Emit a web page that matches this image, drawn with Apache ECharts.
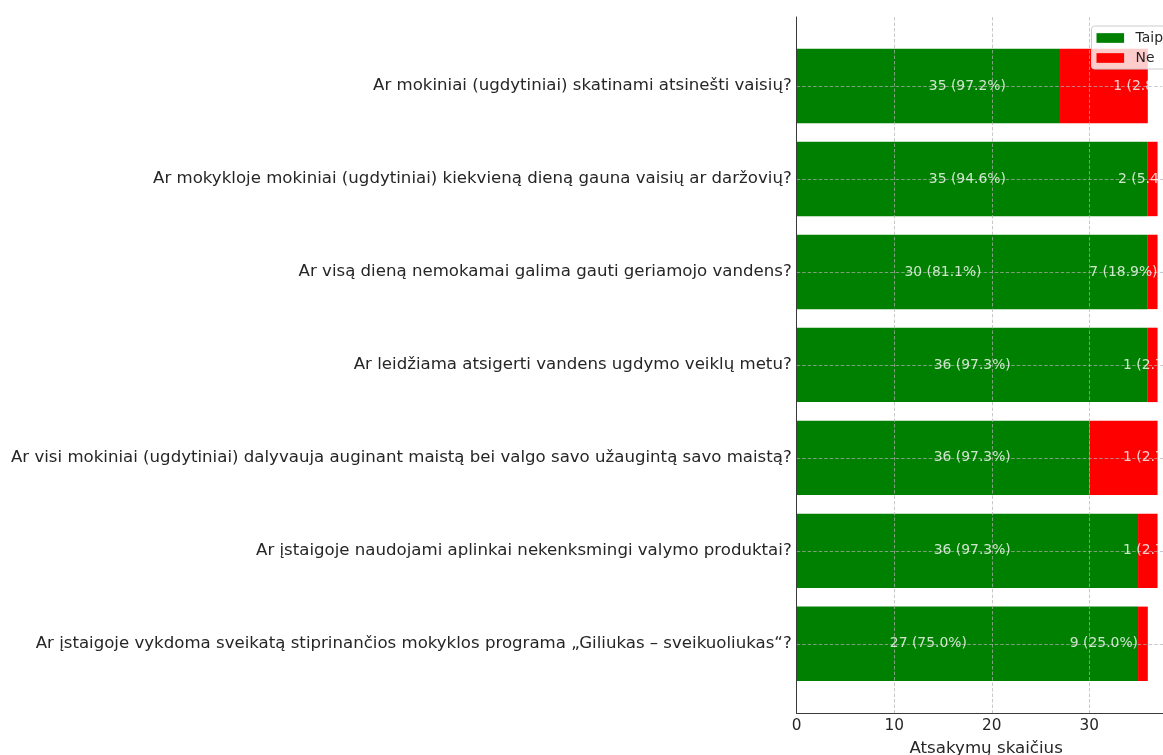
<!DOCTYPE html>
<html>
<head>
<meta charset="utf-8">
<style>
  html, body { margin: 0; padding: 0; background: #ffffff; }
  #chart { width: 1163px; height: 755px; }
</style>
<script src="https://cdn.jsdelivr.net/npm/echarts@6/dist/echarts.min.js"></script>
</head>
<body>
<div id="chart"></div>
<script>
// Questions, top to bottom
const questions = [
  'Ar mokiniai (ugdytiniai) skatinami atsinešti vaisių?',
  'Ar mokykloje mokiniai (ugdytiniai) kiekvieną dieną gauna vaisių ar daržovių?',
  'Ar visą dieną nemokamai galima gauti geriamojo vandens?',
  'Ar leidžiama atsigerti vandens ugdymo veiklų metu?',
  'Ar visi mokiniai (ugdytiniai) dalyvauja auginant maistą bei valgo savo užaugintą savo maistą?',
  'Ar įstaigoje naudojami aplinkai nekenksmingi valymo produktai?',
  'Ar įstaigoje vykdoma sveikatą stiprinančios mokyklos programa „Giliukas – sveikuoliukas“?'
];
// Bar lengths as drawn (top to bottom)
const barTaip = [27, 36, 36, 36, 30, 35, 35];
const barNe   = [9, 1, 1, 1, 7, 2, 1];
// Text labels as printed on the bars (top to bottom)
const labelTaip = [35, 35, 30, 36, 36, 36, 27];
const labelNe   = [1, 2, 7, 1, 1, 1, 9];
const xTicks = [0, 10, 20, 30];
const seriesNames = ['Taip', 'Ne'];

const FONT = 'DejaVu Sans';
const pct = (v, i) => (v / (labelTaip[i] + labelNe[i]) * 100).toFixed(1);

const taipLabelData = labelTaip.map((v, i) => [v / 2, i]);
const neLabelData = labelNe.map((v, i) => [labelTaip[i] + v / 2, i]);

const X_MAX = 38.85;
const gridLine = { show: true, lineStyle: { color: 'rgba(176,176,176,0.7)', width: 1, type: [3.5, 2] } };

const chart = echarts.init(document.getElementById('chart'), null, { renderer: 'canvas' });
chart.setOption({
  animation: false,
  textStyle: { fontFamily: FONT },
  legend: {
    data: seriesNames,
    orient: 'vertical',
    left: 1091.5,
    top: 26,
    icon: 'rect',
    itemWidth: 27.6,
    itemHeight: 9.7,
    itemGap: 6,
    padding: [5, 5, 4, 5],
    backgroundColor: 'rgba(255,255,255,0.8)',
    borderColor: '#cccccc',
    borderWidth: 1,
    borderRadius: 3,
    textStyle: { fontFamily: FONT, fontSize: 13.9, color: '#262626', padding: [0, 0, 0, 6.5] },
    z: 10
  },
  grid: [
    { left: 796.7, right: -12.6, top: 17, bottom: 41.7, outerBoundsMode: 'none', containLabel: false },
    { left: 796.7, right: -12.6, top: 86, bottom: 111.2, outerBoundsMode: 'none', containLabel: false }
  ],
  xAxis: [
    {
      gridIndex: 0, type: 'value', min: 0, max: X_MAX, interval: 10,
      z: 3,
      axisLine: { show: true, lineStyle: { color: '#3a3a3a', width: 1 } },
      axisTick: { show: false },
      axisLabel: {
        fontFamily: FONT, fontSize: 15.3, color: '#262626', margin: 5,
        showMaxLabel: false,
        formatter: v => (xTicks.indexOf(v) >= 0 ? String(v) : '')
      },
      splitLine: gridLine,
      name: 'Atsakymų skaičius',
      nameLocation: 'middle',
      nameGap: 27,
      nameTextStyle: { fontFamily: FONT, fontSize: 16.67, color: '#262626' }
    },
    { gridIndex: 1, type: 'value', min: 0, max: X_MAX, show: false }
  ],
  yAxis: [
    {
      gridIndex: 0, type: 'value', min: 0, max: 1, z: 3,
      axisLine: { show: true, lineStyle: { color: '#3a3a3a', width: 1 } },
      axisTick: { show: false }, axisLabel: { show: false }, splitLine: { show: false }
    },
    {
      gridIndex: 1, type: 'category', data: questions, inverse: true, boundaryGap: false, z: 3,
      axisLine: { show: false }, axisTick: { show: false },
      axisLabel: { interval: 0, fontFamily: FONT, fontSize: 16.6, color: '#262626', margin: 5 },
      splitLine: gridLine
    }
  ],
  series: [
    {
      name: 'Taip', type: 'bar', xAxisIndex: 1, yAxisIndex: 1, stack: 'total',
      barWidth: 74.4, clip: false, data: barTaip,
      itemStyle: { color: '#008000' }
    },
    {
      name: 'Ne', type: 'bar', xAxisIndex: 1, yAxisIndex: 1, stack: 'total',
      barWidth: 74.4, clip: false, data: barNe,
      itemStyle: { color: '#ff0000' }
    },
    {
      type: 'scatter', xAxisIndex: 1, yAxisIndex: 1, symbolSize: 0, silent: true, z: 5,
      data: taipLabelData,
      label: {
        show: true, position: 'inside', color: '#ffffff', fontFamily: FONT, fontSize: 13.9,
        formatter: p => labelTaip[p.dataIndex] + ' (' + pct(labelTaip[p.dataIndex], p.dataIndex) + '%)'
      }
    },
    {
      type: 'scatter', xAxisIndex: 1, yAxisIndex: 1, symbolSize: 0, silent: true, z: 5,
      data: neLabelData,
      label: {
        show: true, position: 'inside', color: '#ffffff', fontFamily: FONT, fontSize: 13.9,
        formatter: p => labelNe[p.dataIndex] + ' (' + pct(labelNe[p.dataIndex], p.dataIndex) + '%)'
      }
    }
  ]
});
</script>
</body>
</html>
